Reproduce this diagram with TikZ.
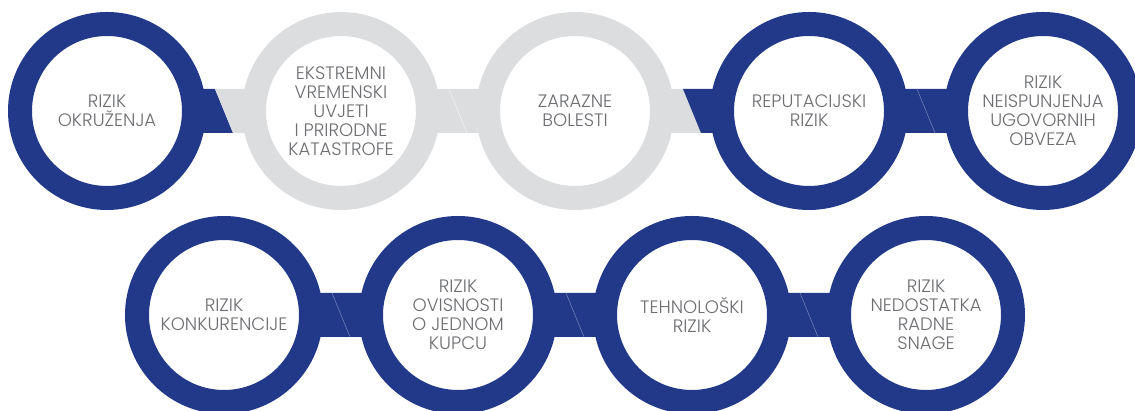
\documentclass[tikz,border=0pt]{standalone}
\usepackage{fontspec}
\setmainfont{Poppins}[UprightFont=* Light]
\usetikzlibrary{calc}
\pgfdeclarelayer{background}
\pgfsetlayers{background,main}
\definecolor{rblue}{HTML}{22398A}
\definecolor{rgrey}{HTML}{DCDDDF}
\definecolor{rtext}{HTML}{6D6E71}
\tikzset{
  ring/.style={circle, draw=#1, line width=24pt, fill=white, minimum size=174pt,
    inner sep=0pt, align=center, text=rtext, font=\fontsize{18}{19}\selectfont},
}
\newcommand\linkbar[4]{%
  \fill[#3] ($(#1.center)+(0,22)$) -- ($(#1.center)!0.5!(#2.center)+(-9,22)$)
    -- ($(#1.center)!0.5!(#2.center)+(9,-22)$) -- ($(#1.center)+(0,-22)$) -- cycle;
  \fill[#4] ($(#1.center)!0.5!(#2.center)+(-9,22)$) -- ($(#2.center)+(0,22)$)
    -- ($(#2.center)+(0,-22)$) -- ($(#1.center)!0.5!(#2.center)+(9,-22)$) -- cycle;
}
\newcommand\seam[3]{%
  \draw[#3, line width=0.5pt] ($(#1.center)!0.5!(#2.center)+(-9,22)$) -- ($(#1.center)!0.5!(#2.center)+(9,-22)$);
}
\begin{document}
\begin{tikzpicture}[x=1pt,y=1pt]
\useasboundingbox (0,0) rectangle (1135,411);
\clip (0,0) rectangle (1135,411);
% row 1
\node[ring=rblue] (c1) at (107,300) {RIZIK\\OKRUŽENJA};
\node[ring=rgrey] (c2) at (341,300) {EKSTREMNI\\VREMENSKI\\UVJETI\\I PRIRODNE\\KATASTROFE};
\node[ring=rgrey] (c3) at (575,300) {ZARAZNE\\BOLESTI};
\node[ring=rblue] (c4) at (809,300) {REPUTACIJSKI\\RIZIK};
\node[ring=rblue] (c5) at (1043,300) {RIZIK\\NEISPUNJENJA\\UGOVORNIH\\OBVEZA};
% row 2
\node[ring=rblue] (d1) at (224,96) {RIZIK\\KONKURENCIJE};
\node[ring=rblue] (d2) at (458,96) {RIZIK\\OVISNOSTI\\O JEDNOM\\KUPCU};
\node[ring=rblue] (d3) at (692,96) {TEHNOLOŠKI\\RIZIK};
\node[ring=rblue] (d4) at (926,96) {RIZIK\\NEDOSTATKA\\RADNE\\SNAGE};
\begin{pgfonlayer}{background}
  \linkbar{c1}{c2}{rblue}{rgrey}
  \linkbar{c2}{c3}{rgrey}{rgrey}
  \linkbar{c3}{c4}{rgrey}{rblue}
  \linkbar{c4}{c5}{rblue}{rblue}
  \linkbar{d1}{d2}{rblue}{rblue}
  \linkbar{d2}{d3}{rblue}{rblue}
  \linkbar{d3}{d4}{rblue}{rblue}
  \seam{c2}{c3}{white!60!rgrey}
  \seam{c4}{c5}{rblue!65!white}
  \seam{d1}{d2}{rblue!65!white}
  \seam{d2}{d3}{rblue!65!white}
  \seam{d3}{d4}{rblue!65!white}
\end{pgfonlayer}
\end{tikzpicture}
\end{document}
